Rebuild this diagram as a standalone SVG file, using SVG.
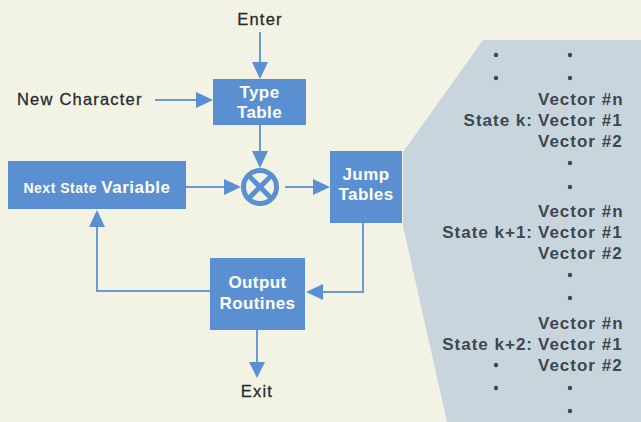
<svg xmlns="http://www.w3.org/2000/svg" width="641" height="422" viewBox="0 0 641 422">
<defs>
<style>
.box{fill:#5a8fd2}
.bt{font-family:"Liberation Sans",Arial,sans-serif;font-weight:bold;fill:#ffffff;text-anchor:middle;font-size:17px;letter-spacing:0.4px}
.lbl{font-family:"Liberation Sans",Arial,sans-serif;fill:#262a2e;font-size:16.5px;letter-spacing:1.2px;stroke:#262a2e;stroke-width:0.3px}
.pt{font-family:"Liberation Sans",Arial,sans-serif;font-weight:bold;fill:#3c4750;font-size:17px;letter-spacing:1px}
.ln{fill:none;stroke:#6a9ad6;stroke-width:2}
.ah{fill:#5a8fd2}
.dot{fill:#3c4750}
</style>
</defs>
<rect width="641" height="422" fill="#f3f3e5"/>
<g id="panel">
<polygon points="483,40 641,40 641,422 447,422 403,226 403,152" fill="#c9d5dd"/>
<g class="dots">
<circle class="dot" cx="496" cy="55" r="2.2"/><circle class="dot" cx="570" cy="55" r="2.2"/>
<circle class="dot" cx="496" cy="78" r="2.2"/><circle class="dot" cx="570" cy="78" r="2.2"/>
<circle class="dot" cx="570" cy="163" r="2.2"/><circle class="dot" cx="570" cy="187" r="2.2"/>
<circle class="dot" cx="570" cy="275" r="2.2"/><circle class="dot" cx="570" cy="298" r="2.2"/>
<circle class="dot" cx="496" cy="365" r="2.2"/>
<circle class="dot" cx="496" cy="388" r="2.2"/><circle class="dot" cx="570" cy="388" r="2.2"/>
<circle class="dot" cx="570" cy="411" r="2.2"/>
</g>
<text class="pt" x="538" y="105">Vector #n</text>
<text class="pt" x="533" y="126" text-anchor="end">State k:</text>
<text class="pt" x="538" y="126">Vector #1</text>
<text class="pt" x="538" y="147">Vector #2</text>
<text class="pt" x="538" y="217">Vector #n</text>
<text class="pt" x="533" y="238" text-anchor="end">State k+1:</text>
<text class="pt" x="538" y="238">Vector #1</text>
<text class="pt" x="538" y="259">Vector #2</text>
<text class="pt" x="538" y="329">Vector #n</text>
<text class="pt" x="533" y="350" text-anchor="end">State k+2:</text>
<text class="pt" x="538" y="350">Vector #1</text>
<text class="pt" x="538" y="371">Vector #2</text>
</g>
<g id="connectors">
<line class="ln" x1="260" y1="32" x2="260" y2="64"/>
<polygon class="ah" points="252,62 268,62 260,79"/>
<line class="ln" x1="155" y1="100" x2="198" y2="100"/>
<polygon class="ah" points="196,92 196,108 213,100"/>
<line class="ln" x1="260" y1="125" x2="260" y2="153"/>
<polygon class="ah" points="252,151 268,151 260,168"/>
<line class="ln" x1="186" y1="187" x2="226" y2="187"/>
<polygon class="ah" points="224,179 224,195 241,187"/>
<line class="ln" x1="285" y1="187" x2="315" y2="187"/>
<polygon class="ah" points="313,179 313,195 330,187"/>
<polyline class="ln" points="363,223 363,292 321,292"/>
<polygon class="ah" points="323,284 323,300 306,292"/>
<polyline class="ln" points="210,291 97,291 97,225"/>
<polygon class="ah" points="89,227 105,227 97,210"/>
<line class="ln" x1="257" y1="330" x2="257" y2="364"/>
<polygon class="ah" points="249,362 265,362 257,378"/>
</g>
<g id="enter"><text class="lbl" x="260" y="25" text-anchor="middle">Enter</text></g>
<g id="new-character"><text class="lbl" x="17" y="105">New Character</text></g>
<g id="type-table">
<rect class="box" x="213" y="79" width="93" height="46"/>
<text class="bt" x="259.5" y="98">Type</text>
<text class="bt" x="259.5" y="118">Table</text>
</g>
<g id="combiner">
<circle cx="260" cy="187" r="16.5" fill="none" stroke="#5a8fd2" stroke-width="5"/>
<line x1="249" y1="176" x2="271" y2="198" stroke="#5a8fd2" stroke-width="5"/>
<line x1="271" y1="176" x2="249" y2="198" stroke="#5a8fd2" stroke-width="5"/>
</g>
<g id="next-state">
<rect class="box" x="8" y="161" width="178" height="48"/>
<text x="97" y="193" text-anchor="middle" style="font-family:'Liberation Sans',Arial,sans-serif;font-weight:bold;fill:#ffffff"><tspan font-size="14" letter-spacing="0.5">Next State </tspan><tspan font-size="17" letter-spacing="0.5">Variable</tspan></text>
</g>
<g id="jump-tables">
<rect class="box" x="330" y="151" width="72" height="72"/>
<text class="bt" x="366" y="180">Jump</text>
<text class="bt" x="366" y="200">Tables</text>
</g>
<g id="output-routines">
<rect class="box" x="210" y="258" width="95" height="72"/>
<text class="bt" x="257.5" y="288">Output</text>
<text class="bt" x="257.5" y="309">Routines</text>
</g>
<g id="exit"><text class="lbl" x="257" y="397" text-anchor="middle">Exit</text></g>
</svg>
